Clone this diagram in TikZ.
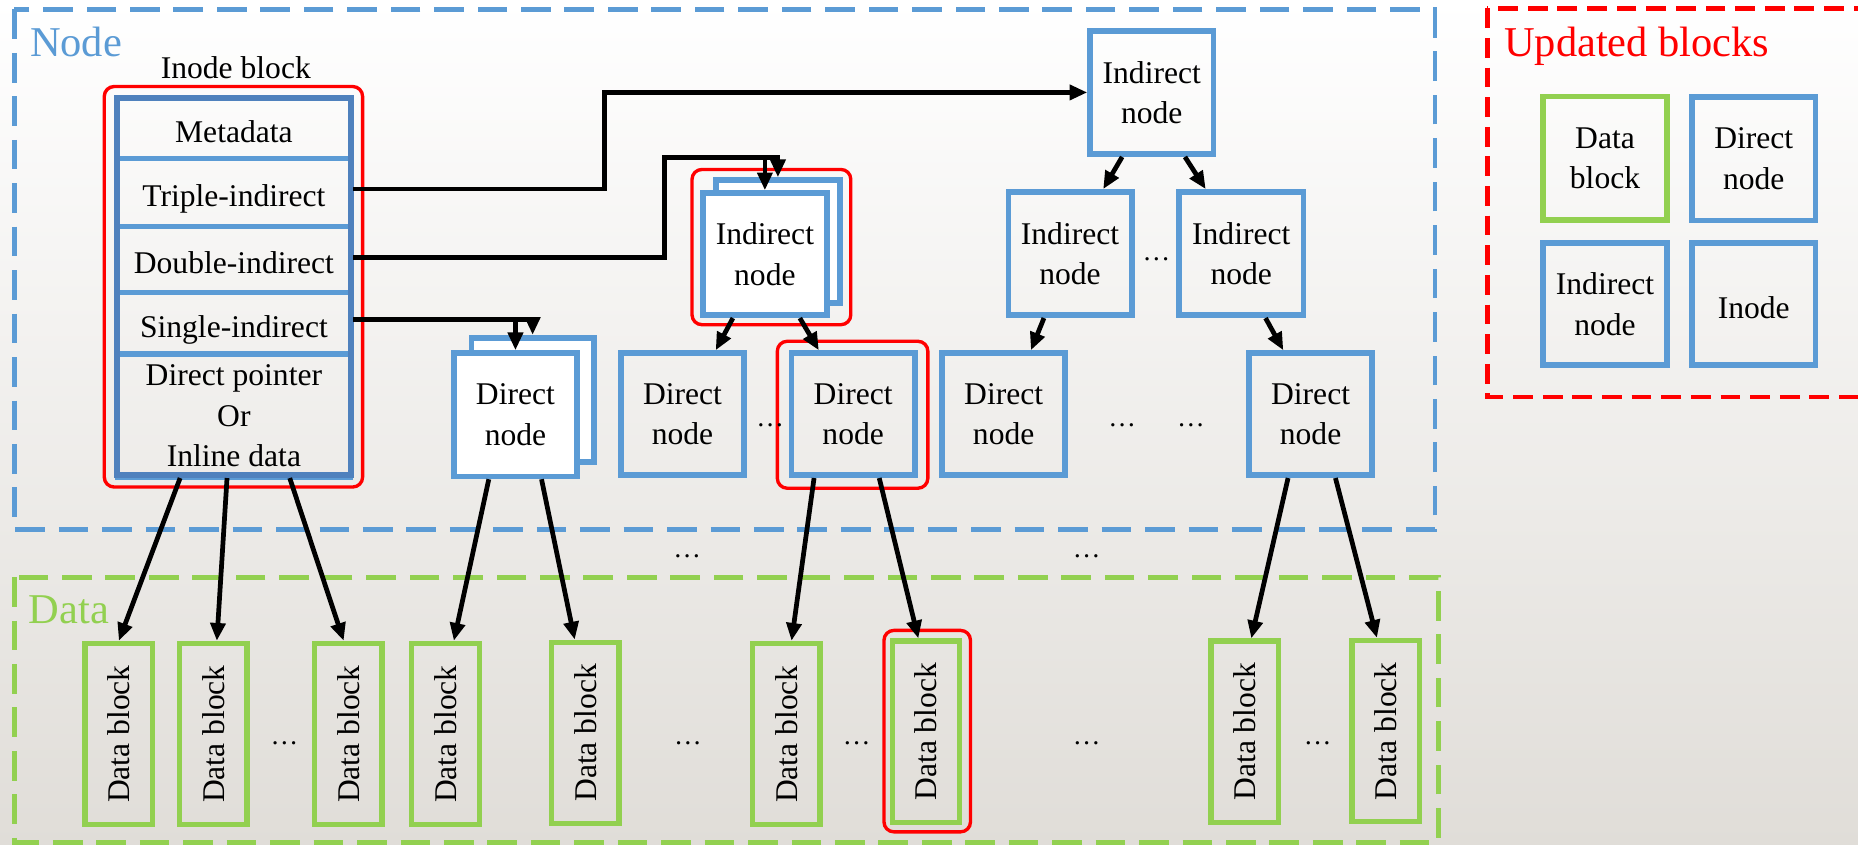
\documentclass[tikz,border=0pt]{standalone}
\usepackage{fontspec}
\setmainfont{Liberation Serif}
\usetikzlibrary{arrows.meta,calc}
\definecolor{nblue}{HTML}{5B9BD5}
\definecolor{dblue}{HTML}{4F81BD}
\definecolor{dgreen}{HTML}{92D050}
\definecolor{bgbot}{RGB}{224,221,216}
\newcommand\mainfs{\fontsize{16}{20.5}\selectfont}
\newcommand\bigfs{\fontsize{21.5}{26}\selectfont}
\newcommand\dotfs{\fontsize{14}{16}\selectfont}
\begin{document}
\begin{tikzpicture}[x=0.6pt,y=-0.6pt,
  sz/.style 2 args={minimum width=#1*0.6pt,minimum height=#2*0.6pt},
  nbox/.style={draw=nblue,line width=2.9pt,inner sep=0pt,align=center,font=\mainfs},
  fbox/.style={draw=nblue,line width=2.6pt,inner sep=0pt,align=center,font=\mainfs},
  oneline/.style={text height=14.5pt,text depth=0pt},
  gbox/.style={draw=dgreen,line width=2.9pt,inner sep=0pt,align=center,font=\mainfs},
  dbox/.style={draw=dgreen,line width=2.7pt,inner sep=0pt,rotate=90,sz={153}{57},font=\mainfs},
  rbox/.style={draw=red,line width=1.7pt,rounded corners=5pt,inner sep=0pt},
  dots/.style={font=\dotfs,inner sep=0pt},
  arr/.style={line width=2.4pt,-{Triangle[length=9pt,width=7.5pt]}}]
\useasboundingbox (0,0) rectangle (1568,713);
\clip (0,0) rectangle (1568,713);
\shade[top color=white,bottom color=bgbot] (0,0) rectangle (1568,713);
% region frames
\draw[nblue,line width=2.5pt,dash pattern=on 15pt off 7pt] (12,8) rectangle (1211,447);
\draw[dgreen,line width=2.5pt,dash pattern=on 15pt off 7pt] (12,487) rectangle (1214,711);
\draw[red,line width=2.5pt,dash pattern=on 10pt off 5pt] (1255,7) rectangle (1640,335);
\node[font=\bigfs,text=nblue,anchor=base west,inner sep=0pt] (lnode) at (25,48) {Node};
\node[font=\bigfs,text=red,anchor=base west,inner sep=0pt] (lupd) at (1269,48) {Updated blocks};
\node[font=\bigfs,text=dgreen,anchor=base west,inner sep=0pt] (ldata) at (24,526) {Data};
% inode block
\node[font=\mainfs,anchor=base,inner sep=0pt] (ilabel) at (199,66) {Inode block};
\node[fbox,oneline,sz={197}{51}] (f1) at (197.4,108.5) {Metadata};
\node[fbox,oneline,sz={197}{57}] (f2) at (197.4,162.5) {Triple-indirect};
\node[fbox,oneline,sz={197}{56}] (f3) at (197.4,219) {Double-indirect};
\node[fbox,oneline,sz={197}{51}] (f4) at (197.4,272.5) {Single-indirect};
\node[fbox,sz={197}{103}] (f5) at (197.4,351) {Direct pointer\\Or\\Inline data};
\node[draw=dblue,line width=2.9pt,inner sep=0pt,sz={197.3}{318}] (inode) at (197.4,242) {};
\node[rbox,sz={218}{338}] (inodeR) at (197,242) {};
% single-indirect direct node stack
\node[nbox,fill=white,sz={103}{105}] (dnB) at (449.5,337.5) {};
\node[nbox,fill=white,sz={104}{104}] (dnF) at (435,350) {Direct\\node};
% double-indirect indirect node stack
\node[nbox,fill=white,sz={105}{104}] (inB) at (656.5,204) {};
\node[nbox,fill=white,sz={105}{103}] (inF) at (645.5,214.5) {Indirect\\node};
\node[rbox,sz={134}{131}] (inR) at (651,208.5) {};
% triple-indirect tree
\node[nbox,sz={104}{104}] (topI) at (972,78) {Indirect\\node};
\node[nbox,sz={104}{104}] (iL) at (903,214) {Indirect\\node};
\node[nbox,sz={105}{104}] (iR) at (1047.5,214) {Indirect\\node};
\node[dots] (dt1) at (976,219) {…};
% direct nodes row
\node[nbox,sz={104}{103}] (d1) at (576,349.5) {Direct\\node};
\node[nbox,sz={104}{103}] (d2) at (720,349.5) {Direct\\node};
\node[rbox,sz={127}{124}] (d2R) at (719.5,350) {};
\node[nbox,sz={104}{103}] (d3) at (847,349.5) {Direct\\node};
\node[nbox,sz={104}{103}] (d4) at (1106,349.5) {Direct\\node};
\node[dots] (dt2) at (650,359) {…};
\node[dots] (dt3) at (947,359) {…};
\node[dots] (dt4) at (1005,359) {…};
\node[dots] (dt5) at (580,469) {…};
\node[dots] (dt6) at (917,469) {…};
% data blocks
\node[dbox] (db1) at (100.3,619.5) {Data block};
\node[dbox] (db2) at (180,619.5) {Data block};
\node[dbox] (db3) at (294,619.5) {Data block};
\node[dbox] (db4) at (376,619.5) {Data block};
\node[dbox] (db5) at (494,618.5) {Data block};
\node[dbox] (db6) at (663.5,619.5) {Data block};
\node[dbox] (db7) at (781.5,617.5) {Data block};
\node[rbox,sz={73}{170}] (db7R) at (782.5,617) {};
\node[dbox] (db8) at (1050.5,617.5) {Data block};
\node[dbox] (db9) at (1169.5,617) {Data block};
\node[dots] (dt7) at (240,627) {…};
\node[dots] (dt8) at (580.6,627) {…};
\node[dots] (dt9) at (723,627) {…};
\node[dots] (dt10) at (917,627) {…};
\node[dots] (dt11) at (1112,627) {…};
% legend
\node[gbox,sz={105}{104}] (lgd) at (1354.5,133.5) {Data\\block};
\node[nbox,sz={104}{104}] (lgn) at (1480,134) {Direct\\node};
\node[nbox,sz={105}{103}] (lgi) at (1354.5,256.5) {Indirect\\node};
\node[nbox,oneline,sz={104}{103}] (lgo) at (1480,256.5) {Inode};
% connectors from inode
\coordinate (c1) at (510,74);
\coordinate (c2) at (561,133);
\draw[arr] ($(f2.east)+(0,-3)$) -| (c1 |- topI.west) -- (topI.west);
\draw[arr] ($(f3.east)+(0,-2)$) -| (c2) -| (inB.north);
\draw[arr] (c2 -| inF.north) -- (inF.north);
\draw[arr] ($(f4.east)+(0,-3)$) -| (dnB.north);
\draw[arr] ($(f4.east -| dnF.north)+(0,-3)$) -- (dnF.north);
% tree connectors
\draw[arr] ($(topI.south)+(-25,0)$) -- ($(iL.north)+(28,0)$);
\draw[arr] ($(topI.south)+(28,0)$) -- ($(iR.north)+(-30,0)$);
\draw[arr] ($(inF.south)+(-27,0)$) -- ($(d1.north)+(28,0)$);
\draw[arr] ($(inF.south)+(29.5,0)$) -- ($(d2.north)+(-29,0)$);
\draw[arr] ($(iL.south)+(-22,0)$) -- ($(d3.north)+(23,0)$);
\draw[arr] ($(iR.south)+(20.5,0)$) -- ($(d4.north)+(-23,0)$);
% to data blocks
\draw[arr] ($(inode.south)+(-45.4,0)$) -- (db1.east);
\draw[arr] ($(inode.south)+(-5.8,0)$) -- ($(db2.east)+(3,0)$);
\draw[arr] ($(inode.south)+(47.1,0)$) -- ($(db3.east)+(-4,0)$);
\draw[arr] ($(dnF.south)+(-22.5,0)$) -- ($(db4.east)+(7,0)$);
\draw[arr] ($(dnF.south)+(22,0)$) -- ($(db5.east)+(-9,0)$);
\draw[arr] ($(d2.south)+(-33,0)$) -- ($(db6.east)+(4.5,0)$);
\draw[arr] ($(d2.south)+(22,0)$) -- ($(db7.east)+(-6.5,0)$);
\draw[arr] ($(d4.south)+(-19,0)$) -- ($(db8.east)+(5.5,0)$);
\draw[arr] ($(d4.south)+(21,0)$) -- ($(db9.east)+(-7.5,0)$);
\end{tikzpicture}
\end{document}
